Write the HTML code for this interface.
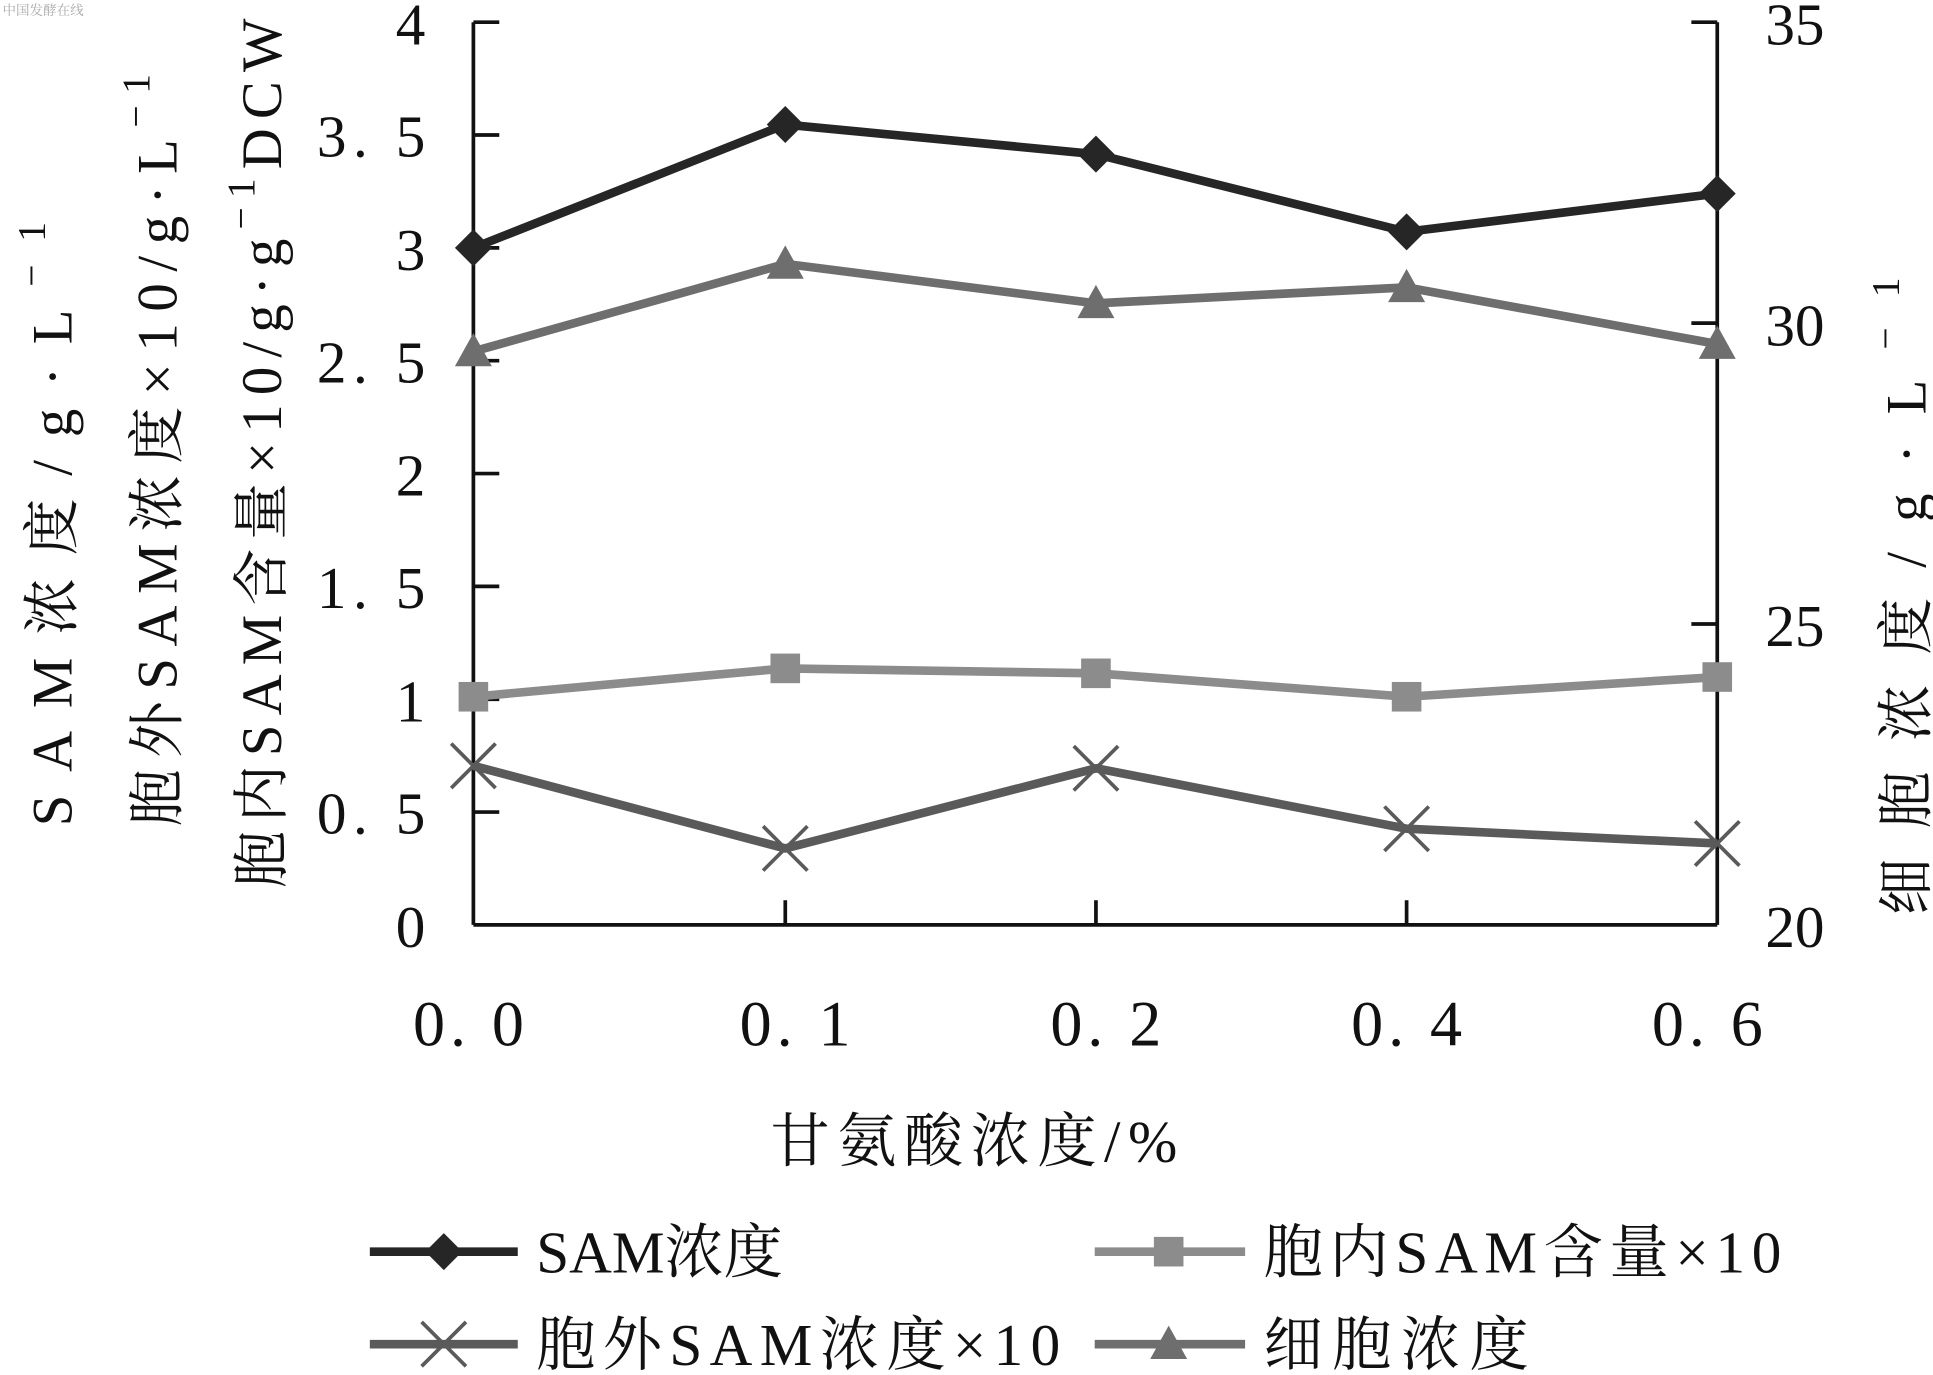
<!DOCTYPE html>
<html><head><meta charset="utf-8"><style>
html,body{margin:0;padding:0;background:#fff;}
svg{display:block;}
text{font-family:"Liberation Serif","Noto Serif CJK SC",serif;fill:#111;}
</style></head><body>
<svg width="1933" height="1375" viewBox="0 0 1568 1115" preserveAspectRatio="none" xmlns="http://www.w3.org/2000/svg">
<text x="2" y="12" font-size="11" style="fill:#aaa" font-family="Noto Sans CJK SC">中国发酵在线</text>
<g stroke="#111" stroke-width="3" fill="none">
<line x1="384" y1="18" x2="384" y2="750"/>
<line x1="1393" y1="18" x2="1393" y2="750"/>
<line x1="384" y1="750" x2="1393" y2="750"/>
<line x1="384" y1="18" x2="405" y2="18"/>
<line x1="384" y1="109.5" x2="405" y2="109.5"/>
<line x1="384" y1="201" x2="405" y2="201"/>
<line x1="384" y1="292.5" x2="405" y2="292.5"/>
<line x1="384" y1="384" x2="405" y2="384"/>
<line x1="384" y1="475.5" x2="405" y2="475.5"/>
<line x1="384" y1="567" x2="405" y2="567"/>
<line x1="384" y1="658.5" x2="405" y2="658.5"/>
<line x1="1372" y1="18" x2="1393" y2="18"/>
<line x1="1372" y1="262" x2="1393" y2="262"/>
<line x1="1372" y1="506" x2="1393" y2="506"/>
<line x1="637" y1="750" x2="637" y2="730"/>
<line x1="889" y1="750" x2="889" y2="730"/>
<line x1="1141" y1="750" x2="1141" y2="730"/>
</g>
<g font-size="48" text-anchor="end">
<text x="345" y="36">4</text>
<text x="345" y="127" textLength="88" lengthAdjust="spacing">3. 5</text>
<text x="345" y="219">3</text>
<text x="345" y="310" textLength="88" lengthAdjust="spacing">2. 5</text>
<text x="345" y="402">2</text>
<text x="345" y="493" textLength="88" lengthAdjust="spacing">1. 5</text>
<text x="345" y="585">1</text>
<text x="345" y="676" textLength="88" lengthAdjust="spacing">0. 5</text>
<text x="345" y="768">0</text>
</g>
<g font-size="48" text-anchor="start">
<text x="1432" y="36">35</text>
<text x="1432" y="280">30</text>
<text x="1432" y="524">25</text>
<text x="1432" y="768">20</text>
</g>
<g font-size="52">
<text x="335" y="848" textLength="90" lengthAdjust="spacing">0. 0</text>
<text x="600" y="848" textLength="90" lengthAdjust="spacing">0. 1</text>
<text x="852" y="848" textLength="90" lengthAdjust="spacing">0. 2</text>
<text x="1096" y="848" textLength="90" lengthAdjust="spacing">0. 4</text>
<text x="1340" y="848" textLength="90" lengthAdjust="spacing">0. 6</text>
</g>
<text x="625" y="942" font-size="48" textLength="330" lengthAdjust="spacing">甘氨酸浓度/%</text>
<g font-size="46">
<text transform="translate(58,670) rotate(-90)" textLength="490" lengthAdjust="spacing">SAM浓度/g·L<tspan dy="-22" font-size="32">−1</tspan></text>
<text transform="translate(143,670) rotate(-90)" textLength="610" lengthAdjust="spacing">胞外SAM浓度×10/g·L<tspan dy="-22" font-size="32">−1</tspan></text>
<text transform="translate(228,720) rotate(-90)" textLength="705" lengthAdjust="spacing">胞内SAM含量×10/g·g<tspan dy="-22" font-size="32">−1</tspan><tspan dy="22">DCW</tspan></text>
<text transform="translate(1562,742) rotate(-90)" textLength="517" lengthAdjust="spacing">细胞浓度/g·L<tspan dy="-22" font-size="32">−1</tspan></text>
</g>
<g fill="none" stroke-width="7" stroke-linejoin="round">
<polyline stroke="#8c8c8c" points="384,565 637,542 889,546 1141,565 1393,549"/>
<polyline stroke="#5a5a5a" points="384,621 637,688 889,623 1141,672 1393,684"/>
<polyline stroke="#6e6e6e" points="384,285 637,214 889,246 1141,233 1393,279"/>
<polyline stroke="#262626" points="384,201 637,101 889,125 1141,188 1393,157"/>
</g>
<g fill="#8c8c8c">
<rect x="372" y="553" width="24" height="24"/><rect x="625" y="530" width="24" height="24"/><rect x="877" y="534" width="24" height="24"/><rect x="1129" y="553" width="24" height="24"/><rect x="1381" y="537" width="24" height="24"/>
</g>
<g stroke="#5a5a5a" stroke-width="3">
<path d="M366,603l36,36M402,603l-36,36M619,670l36,36M655,670l-36,36M871,605l36,36M907,605l-36,36M1123,654l36,36M1159,654l-36,36M1375,666l36,36M1411,666l-36,36"/>
</g>
<g fill="#6e6e6e">
<path d="M384,270l15,27h-30z"/><path d="M637,199l15,27h-30z"/><path d="M889,231l15,27h-30z"/><path d="M1141,218l15,27h-30z"/><path d="M1393,264l15,27h-30z"/>
</g>
<g fill="#262626">
<path d="M384,186l15,15l-15,15l-15,-15z"/><path d="M637,86l15,15l-15,15l-15,-15z"/><path d="M889,110l15,15l-15,15l-15,-15z"/><path d="M1141,173l15,15l-15,15l-15,-15z"/><path d="M1393,142l15,15l-15,15l-15,-15z"/>
</g>
<g stroke-width="7">
<line x1="300" y1="1015" x2="420" y2="1015" stroke="#262626"/>
<line x1="888" y1="1015" x2="1010" y2="1015" stroke="#8c8c8c"/>
<line x1="300" y1="1090" x2="420" y2="1090" stroke="#5a5a5a"/>
<line x1="888" y1="1090" x2="1010" y2="1090" stroke="#6e6e6e"/>
</g>
<path d="M360,1000l15,15l-15,15l-15,-15z" fill="#262626"/>
<rect x="936" y="1003" width="24" height="24" fill="#8c8c8c"/>
<path d="M342,1072l36,36M378,1072l-36,36" stroke="#5a5a5a" stroke-width="3"/>
<path d="M948,1075l15,27h-30z" fill="#6e6e6e"/>
<g font-size="48">
<text x="435" y="1032" textLength="200" lengthAdjust="spacing">SAM浓度</text>
<text x="1025" y="1032" textLength="420" lengthAdjust="spacing">胞内SAM含量×10</text>
<text x="435" y="1107" textLength="425" lengthAdjust="spacing">胞外SAM浓度×10</text>
<text x="1025" y="1107" textLength="215" lengthAdjust="spacing">细胞浓度</text>
</g>
</svg>
</body></html>
